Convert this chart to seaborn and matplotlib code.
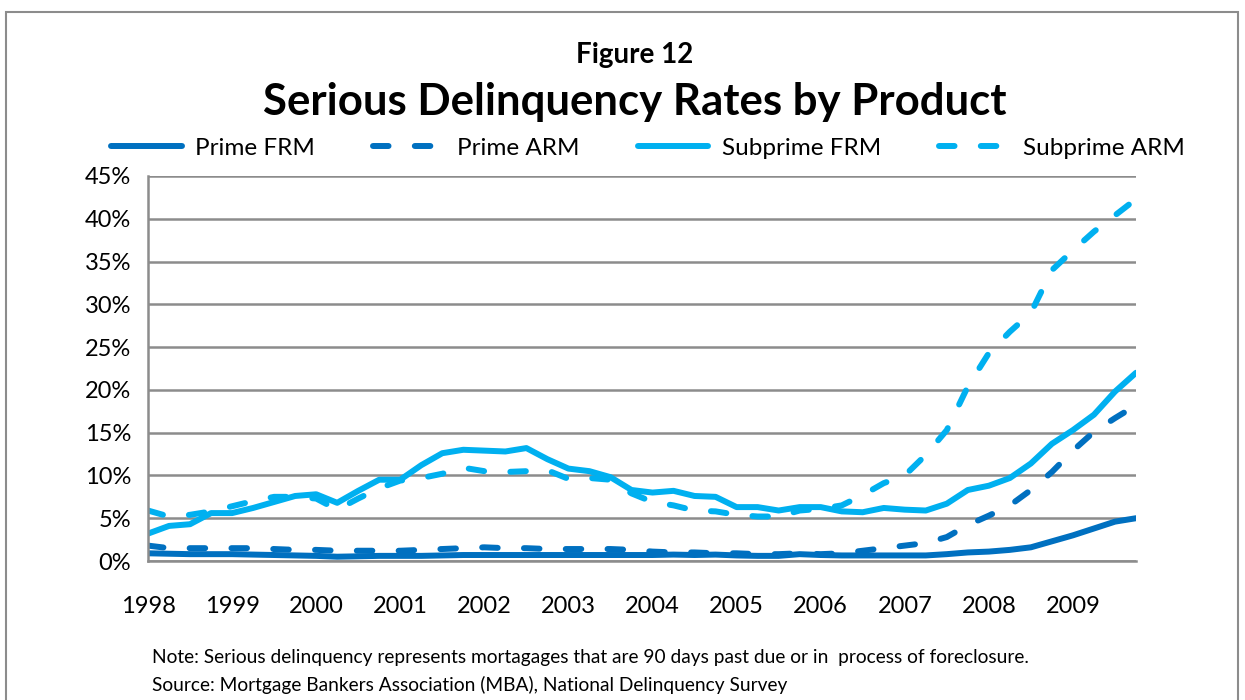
import numpy as np
import pandas as pd
import matplotlib
matplotlib.use("Agg")
import matplotlib.pyplot as plt
import seaborn as sns
from matplotlib.patches import Rectangle
from matplotlib.lines import Line2D

# quarterly, 1998 Q1 .. 2009 Q4 (percent)
years = [str(y) for y in range(1998, 2010)]
quarters = [f"{y}Q{q}" for y in range(1998, 2010) for q in range(1, 5)]

prime_frm = [0.9, 0.85, 0.8, 0.8, 0.8, 0.75, 0.7, 0.65, 0.6, 0.5, 0.55, 0.6,
             0.6, 0.6, 0.65, 0.7, 0.7, 0.7, 0.7, 0.7, 0.7, 0.7, 0.7, 0.7,
             0.7, 0.75, 0.7, 0.75, 0.65, 0.6, 0.6, 0.8, 0.7, 0.65, 0.65, 0.65,
             0.65, 0.65, 0.8, 1.0, 1.1, 1.3, 1.6, 2.3, 3.0, 3.8, 4.6, 5.0]
prime_arm = [1.8, 1.5, 1.5, 1.5, 1.5, 1.5, 1.4, 1.3, 1.3, 1.2, 1.2, 1.2,
             1.2, 1.3, 1.4, 1.5, 1.6, 1.5, 1.5, 1.4, 1.4, 1.4, 1.4, 1.3,
             1.1, 1.0, 1.0, 0.9, 0.9, 0.8, 0.8, 0.9, 0.8, 0.9, 1.2, 1.5,
             1.8, 2.1, 2.8, 4.2, 5.3, 6.5, 8.3, 10.4, 12.9, 15.1, 16.7, 18.2]
subprime_frm = [3.2, 4.1, 4.3, 5.6, 5.6, 6.2, 6.9, 7.6, 7.8, 6.8, 8.2, 9.5,
                9.5, 11.2, 12.6, 13.0, 12.9, 12.8, 13.2, 11.9, 10.8, 10.5, 9.8, 8.3,
                8.0, 8.2, 7.6, 7.5, 6.3, 6.3, 5.9, 6.3, 6.3, 5.8, 5.7, 6.2,
                6.0, 5.9, 6.7, 8.3, 8.8, 9.7, 11.4, 13.7, 15.3, 17.1, 19.8, 22.0]
subprime_arm = [5.9, 5.2, 5.4, 5.8, 6.4, 7.0, 7.5, 7.5, 7.3, 6.0, 7.3, 8.5,
                9.4, 9.7, 10.2, 10.9, 10.5, 10.4, 10.5, 10.6, 9.6, 9.7, 9.5, 7.9,
                6.9, 6.5, 5.9, 5.8, 5.4, 5.2, 5.2, 5.9, 6.1, 6.5, 7.7, 9.1,
                10.0, 12.4, 15.3, 20.4, 24.3, 26.8, 29.0, 34.0, 36.3, 38.5, 40.4, 42.3]

series_names = ["Prime FRM", "Prime ARM", "Subprime FRM", "Subprime ARM"]
series_values = [prime_frm, prime_arm, subprime_frm, subprime_arm]

dark_blue = "#0070C0"
light_blue = "#00B0F0"
colors = {"Prime FRM": dark_blue, "Prime ARM": dark_blue,
          "Subprime FRM": light_blue, "Subprime ARM": light_blue}
dashed = {"Prime FRM": False, "Prime ARM": True,
          "Subprime FRM": False, "Subprime ARM": True}

df = pd.DataFrame({
    "series": np.repeat(series_names, len(quarters)),
    "idx": np.tile(np.arange(len(quarters)), len(series_names)),
    "rate": np.concatenate(series_values),
})

sns.set_style("white")
plt.rcParams["font.family"] = ["Lato", "DejaVu Sans"]
plt.rcParams["text.color"] = "black"

fig = plt.figure(figsize=(12.45, 7), dpi=100)
ax = fig.add_axes([148 / 1245, 1 - 561 / 700, (1136 - 148) / 1245, (561 - 176) / 700])

lw = 4.3
for name in series_names:
    sub = df[df["series"] == name]
    sns.lineplot(data=sub, x="idx", y="rate", ax=ax, color=colors[name],
                 linewidth=lw, legend=False)
    line = ax.lines[-1]
    line.set_solid_capstyle("round")
    line.set_solid_joinstyle("round")
    if dashed[name]:
        line.set_dashes((2.6, 4.4))
        line.set_dash_capstyle("round")

ax.set_xlim(0, len(quarters) - 1)
ax.set_ylim(0, 45)
ax.set_yticks(np.arange(0, 46, 5))
ax.set_yticklabels([f"{v}%" for v in range(0, 46, 5)], fontsize=17)
ax.set_xticks(np.arange(0, len(quarters), 4))
ax.set_xticklabels(years, fontsize=17)
ax.set_xlabel("")
ax.set_ylabel("")

ax.yaxis.grid(True, color="#8c8c8c", linewidth=1.8)
ax.set_axisbelow(True)
for s in ["top", "right"]:
    ax.spines[s].set_visible(False)
for s in ["left", "bottom"]:
    ax.spines[s].set_color("#8c8c8c")
    ax.spines[s].set_linewidth(1.8)
ax.tick_params(axis="both", which="major", direction="out", length=7,
               width=1.5, color="#8c8c8c", labelcolor="black")
ax.tick_params(axis="x", pad=18)
ax.tick_params(axis="y", pad=5)

handles = []
for name in series_names:
    h = Line2D([0], [0], color=colors[name], linewidth=lw, solid_capstyle="round")
    if dashed[name]:
        h.set_dashes((2.6, 4.4))
        h.set_dash_capstyle("round")
    handles.append(h)
fig.legend(handles, series_names, loc="center", ncol=4, frameon=False,
           bbox_to_anchor=(648 / 1245, 1 - 148 / 700), fontsize=17.5,
           handlelength=2.9, columnspacing=2.4, handletextpad=0.55,
           labelcolor="black")

fig.text(635 / 1245, 1 - 55 / 700, "Figure 12", ha="center", va="center",
         fontsize=20, fontweight="bold")
fig.text(635 / 1245, 1 - 102 / 700, "Serious Delinquency Rates by Product",
         ha="center", va="center", fontsize=31.5, fontweight="bold")
fig.text(152 / 1245, 1 - 658 / 700,
         "Note: Serious delinquency represents mortagages that are 90 days past due or in  process of foreclosure.",
         ha="left", va="center", fontsize=13.8)
fig.text(152 / 1245, 1 - 685 / 700,
         "Source: Mortgage Bankers Association (MBA), National Delinquency Survey",
         ha="left", va="center", fontsize=13.8)

fig.patches.append(Rectangle((6 / 1245, -0.1), (1238 - 6) / 1245, 1 - 12 / 700 + 0.1,
                             transform=fig.transFigure, fill=False,
                             edgecolor="#8c8c8c", linewidth=1.5))

fig.savefig("out.png", dpi=100)
